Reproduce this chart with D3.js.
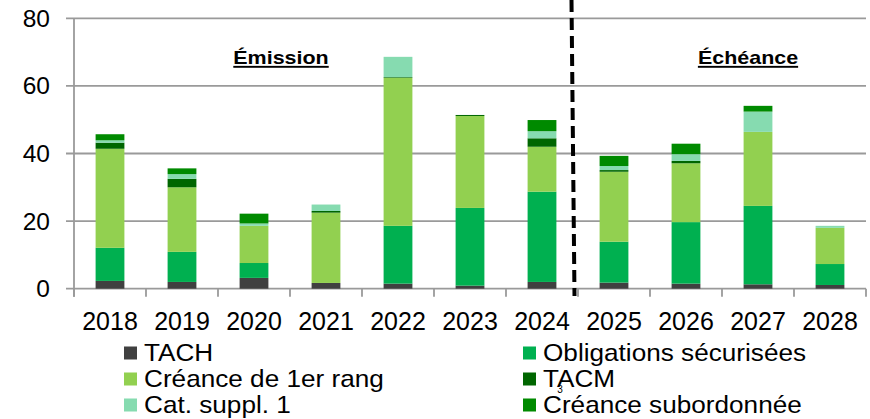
<!DOCTYPE html>
<html><head><meta charset="utf-8">
<script src="https://cdn.jsdelivr.net/npm/d3@7"></script>
<style>
body{margin:0;background:#fff;}
text{font-family:"Liberation Sans",Arial,sans-serif;}
</style></head>
<body><svg id="c" width="870" height="419"></svg>
<script>
const years = ["2018","2019","2020","2021","2022","2023","2024","2025","2026","2027","2028"];
const seriesNames = ["TACH","Obligations sécurisées","Créance de 1er rang","TACM","Cat. suppl. 1","Créance subordonnée"];
const seriesColors = ["#404040","#00B050","#92D050","#006600","#86DBB0","#008A00"];
const tach   = [2.3, 2.0, 3.2, 1.7, 1.5, 0.9, 2.0, 1.8, 1.5, 1.3, 1.1];
const oblig  = [9.8, 8.9, 4.4, 0.0, 17.1, 23.0, 26.7, 12.1, 18.2, 23.2, 6.2];
const senior = [29.3, 19.1, 11.0, 20.8, 43.8, 27.2, 13.3, 20.7, 17.4, 21.9, 10.7];
const tacm   = [1.8, 2.5, 0.0, 0.5, 0.2, 0.3, 2.5, 0.5, 0.7, 0.0, 0.0];
const cat1   = [0.7, 1.4, 0.7, 1.9, 6.0, 0.0, 2.1, 1.2, 2.0, 6.0, 0.6];
const subord = [1.8, 1.7, 2.9, 0.0, 0.0, 0.0, 3.3, 3.0, 3.1, 1.7, 0.0];
const yTicks = [0, 20, 40, 60, 80];
const sectionLabels = ["Émission", "Échéance"];

const svg = d3.select("#c");
const pLeft = 74, pRight = 866, pTop = 18.3, pBottom = 288.7;
const x = d3.scaleBand().domain(years).range([pLeft, pRight]).padding(0);
const y = d3.scaleLinear().domain([0, 80]).range([pBottom, pTop]);

// gridlines
svg.append("g").selectAll("line").data(yTicks).join("line")
  .attr("x1", pLeft - 8).attr("x2", pRight)
  .attr("y1", d => y(d)).attr("y2", d => y(d))
  .attr("stroke", "#9a9a9a").attr("stroke-width", 1.8);
// y axis line
svg.append("line").attr("x1", pLeft).attr("x2", pLeft).attr("y1", y(80)).attr("y2", y(0) + 8)
  .attr("stroke", "#9a9a9a").attr("stroke-width", 1.8);
// x ticks
svg.append("g").selectAll("line").data(years.concat(["end"])).join("line")
  .attr("x1", (d, i) => pLeft + i * x.step()).attr("x2", (d, i) => pLeft + i * x.step())
  .attr("y1", y(0)).attr("y2", y(0) + 8)
  .attr("stroke", "#9a9a9a").attr("stroke-width", 1.8);

// y labels
svg.append("g").selectAll("text").data(yTicks).join("text")
  .attr("x", 50).attr("y", d => y(d) + 8.5).attr("text-anchor", "end")
  .attr("font-size", 24.5).text(d => d);
// x labels
svg.append("g").selectAll("text").data(years).join("text")
  .attr("x", d => x(d) + x.bandwidth() / 2).attr("y", 330).attr("text-anchor", "middle")
  .attr("font-size", 25).text(d => d);

// stacked bars
const rows = years.map((yr, i) => ({year: yr, s0: tach[i], s1: oblig[i], s2: senior[i], s3: tacm[i], s4: cat1[i], s5: subord[i]}));
const keys = ["s0","s1","s2","s3","s4","s5"];
const stacked = d3.stack().keys(keys)(rows);
const bw = x.bandwidth() * 0.4;
svg.append("g").selectAll("g").data(stacked).join("g")
  .attr("fill", (d, i) => seriesColors[i])
  .selectAll("rect").data(d => d).join("rect")
  .attr("x", d => x(d.data.year) + (x.bandwidth() - bw) / 2)
  .attr("width", bw)
  .attr("y", d => y(d[1]))
  .attr("height", d => Math.max(0, y(d[0]) - y(d[1])));

// dashed separator
const sepX = x("2025") - 5;
svg.append("line").attr("x1", sepX - 1.5).attr("x2", sepX + 1.5).attr("y1", 0).attr("y2", 296)
  .attr("stroke", "#000").attr("stroke-width", 4).attr("stroke-dasharray", "12,6");

// section labels (slightly stretched horizontally like the reference)
[[281, sectionLabels[0]], [748, sectionLabels[1]]].forEach(([cx, t]) => {
  svg.append("g").attr("transform", `translate(${cx},64) scale(1.13,1)`)
    .append("text").attr("x", 0).attr("y", 0).attr("text-anchor", "middle")
    .attr("font-size", 19).attr("font-weight", "bold").attr("text-decoration", "underline")
    .text(t);
});

// legend
const legX = [124, 523], legY = [353, 379, 405];
const lg = svg.append("g").selectAll("g").data(seriesNames).join("g")
  .attr("transform", (d, i) => `translate(${legX[i % 2]},${legY[Math.floor(i / 2)]})`);
lg.append("rect").attr("x", 0).attr("y", -6.5).attr("width", 13).attr("height", 13)
  .attr("fill", (d, i) => seriesColors[i]);
lg.append("g").attr("transform", "translate(20,8.3) scale(1.09,1)")
  .append("text").attr("x", 0).attr("y", 0).attr("font-size", 24).text(d => d);
svg.append("text").attr("x", 560).attr("y", 393).attr("font-size", 10).attr("text-anchor", "middle").text("3");
</script></body></html>
